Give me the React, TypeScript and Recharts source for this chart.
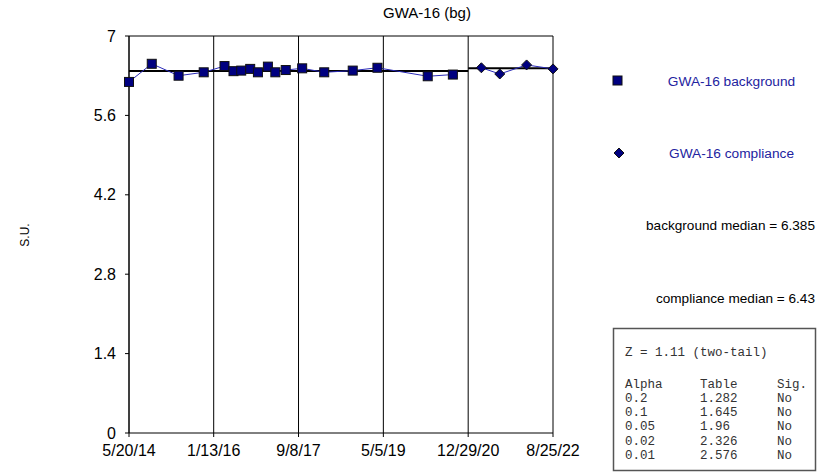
import React from "react";
import { ComposedChart, Scatter, XAxis, YAxis, CartesianGrid, ReferenceLine, Legend } from "recharts";

const FONT = "'Liberation Sans', Arial, sans-serif";
const MONO = "'Courier New', 'Liberation Mono', monospace";
const TEXT_BLUE = "#2323a0";

// sample dates + pH readings
const bgDates = [
  "2014-05-20", "2014-10-29", "2015-05-08", "2015-11-03", "2016-03-30", "2016-06-02",
  "2016-07-27", "2016-09-29", "2016-11-23", "2017-02-02", "2017-03-27", "2017-06-09",
  "2017-10-04", "2018-03-10", "2018-09-29", "2019-03-24", "2020-03-16", "2020-09-11",
];
const bgValues = [6.19, 6.51, 6.3, 6.36, 6.47, 6.38, 6.39, 6.42, 6.36, 6.46, 6.36, 6.4, 6.43, 6.36, 6.39, 6.44, 6.29, 6.32];

const compDates = ["2021-04-02", "2021-08-11", "2022-02-18", "2022-08-25"];
const compValues = [6.44, 6.33, 6.49, 6.42];

const bgMedian = 6.385;
const compMedian = 6.43;
const splitDate = "12/29/20";

const xTickLabels = ["5/20/14", "1/13/16", "9/8/17", "5/5/19", "12/29/20", "8/25/22"];
const yTicks = [0, 1.4, 2.8, 4.2, 5.6, 7];

const alphas = ["0.2", "0.1", "0.05", "0.02", "0.01"];
const tableValues = ["1.282", "1.645", "1.96", "2.326", "2.576"];
const sigValues = ["No", "No", "No", "No", "No"];

const isoToDay = (s: string) => Date.parse(s) / 86400000;
const labelToDay = (s: string) => {
  const [m, d, y] = s.split("/").map(Number);
  return Date.UTC(2000 + y, m - 1, d) / 86400000;
};

const xTicks = xTickLabels.map(labelToDay);
const bgData = bgDates.map((d, i) => ({ x: isoToDay(d), y: bgValues[i] }));
const compData = compDates.map((d, i) => ({ x: isoToDay(d), y: compValues[i] }));

const Square = (props: any) => (
  <rect x={props.cx - 4.5} y={props.cy - 4.5} width={9} height={9} fill="#000080" stroke="#111" strokeWidth={1} />
);

const Diamond = (props: any) => {
  const { cx, cy } = props;
  return (
    <polygon
      points={`${cx},${cy - 5} ${cx + 5},${cy} ${cx},${cy + 5} ${cx - 5},${cy}`}
      fill="#000080"
      stroke="#111"
      strokeWidth={1}
    />
  );
};

const renderLegend = () => (
  <svg width={247} height={110} style={{ overflow: "visible" }}>
    <rect x={23} y={16} width={9} height={9} fill="#000080" stroke="#111" />
    <text x={141.5} y={21} textAnchor="middle" dominantBaseline="central" fontSize={13.7} fill={TEXT_BLUE} fontFamily={FONT}>
      GWA-16 background
    </text>
    <polygon points="29,88 34,93 29,98 24,93" fill="#000080" stroke="#111" />
    <text x={141.5} y={93} textAnchor="middle" dominantBaseline="central" fontSize={13.7} fill={TEXT_BLUE} fontFamily={FONT}>
      GWA-16 compliance
    </text>
  </svg>
);

export default function App() {
  const start = xTicks[0];
  const end = xTicks[xTicks.length - 1];
  const split = labelToDay(splitDate);
  const rowY = (i: number) => 399 + i * 14.2;

  return (
    <div style={{ position: "absolute", left: 0, top: 0, width: 837, height: 473, background: "#fff", fontFamily: FONT }}>
      <ComposedChart width={837} height={473} margin={{ top: 36, right: 284, bottom: 10, left: 0 }}>
        <CartesianGrid horizontal={false} stroke="#000" />
        <XAxis
          type="number"
          dataKey="x"
          domain={[start, end]}
          ticks={xTicks}
          interval={0}
          tickFormatter={(v: number) => xTickLabels[xTicks.indexOf(v)] ?? ""}
          tick={{ fontSize: 16, fill: "#000", fontFamily: FONT }}
          tickSize={4}
          tickMargin={8}
          height={30}
          stroke="#000"
        />
        <YAxis
          type="number"
          dataKey="y"
          domain={[0, 7]}
          ticks={yTicks}
          interval={0}
          width={129}
          tickSize={4}
          tickMargin={9}
          tick={{ fontSize: 16, fill: "#000", fontFamily: FONT }}
          stroke="#000"
        />
        <ReferenceLine y={7} stroke="#000" />
        <ReferenceLine segment={[{ x: start, y: bgMedian }, { x: split, y: bgMedian }]} stroke="#000" strokeWidth={2} />
        <ReferenceLine segment={[{ x: split, y: compMedian }, { x: end, y: compMedian }]} stroke="#000" strokeWidth={2} />
        <Scatter
          name="GWA-16 background"
          data={bgData}
          fill="#000080"
          line={{ stroke: "#2a2ab8", strokeWidth: 1 }}
          shape={Square}
          isAnimationActive={false}
        />
        <Scatter
          name="GWA-16 compliance"
          data={compData}
          fill="#000080"
          line={{ stroke: "#2a2ab8", strokeWidth: 1 }}
          shape={Diamond}
          isAnimationActive={false}
        />
        <Legend
          layout="horizontal"
          verticalAlign="middle"
          align="center"
          content={renderLegend}
          wrapperStyle={{ position: "absolute", left: 590, top: 60, width: 247, height: 110 }}
        />
      </ComposedChart>

      <svg width={837} height={473} style={{ position: "absolute", left: 0, top: 0, pointerEvents: "none" }}>
        <text x={427} y={12} textAnchor="middle" dominantBaseline="central" fontSize={15} fill="#000" fontFamily={FONT}>
          GWA-16 (bg)
        </text>
        <text x={25} y={235} textAnchor="middle" dominantBaseline="central" fontSize={12} fill="#000" fontFamily={FONT} transform="rotate(-90 25 235)">
          S.U.
        </text>
        <text x={815} y={225} textAnchor="end" dominantBaseline="central" fontSize={13.6} fill="#000" fontFamily={FONT}>
          background median = {bgMedian}
        </text>
        <text x={815} y={298} textAnchor="end" dominantBaseline="central" fontSize={13.6} fill="#000" fontFamily={FONT}>
          compliance median = {compMedian}
        </text>
        <rect x={613.5} y={328.5} width={202} height={142} fill="none" stroke="#555" strokeWidth={1.5} />
        <g fontFamily={MONO} fontSize={12.5} fill="#333">
          <text x={625} y={353} dominantBaseline="central" xmlSpace="preserve">Z = 1.11 (two-tail)</text>
          <text x={625} y={385} dominantBaseline="central">Alpha</text>
          <text x={700} y={385} dominantBaseline="central">Table</text>
          <text x={777} y={385} dominantBaseline="central">Sig.</text>
          {alphas.map((a, i) => (
            <g key={a}>
              <text x={625} y={rowY(i)} dominantBaseline="central">{a}</text>
              <text x={700} y={rowY(i)} dominantBaseline="central">{tableValues[i]}</text>
              <text x={777} y={rowY(i)} dominantBaseline="central">{sigValues[i]}</text>
            </g>
          ))}
        </g>
      </svg>
    </div>
  );
}
